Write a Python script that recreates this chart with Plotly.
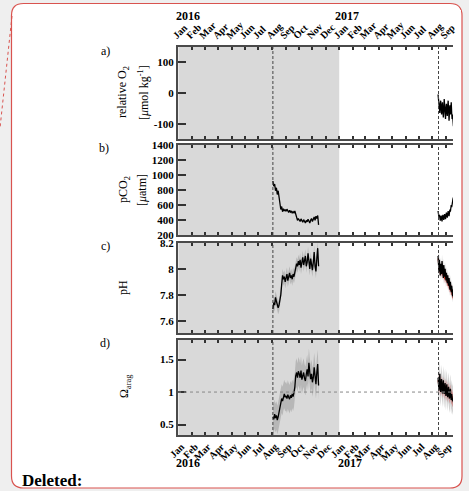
import plotly.graph_objects as go
import pandas as pd

W, H = 469, 491
SERIF = "Liberation Serif"

# ---------------- data ----------------
month_labels = ["Jan", "Feb", "Mar", "Apr", "May", "Jun", "Jul", "Aug", "Sep", "Oct", "Nov", "Dec",
                "Jan", "Feb", "Mar", "Apr", "May", "Jun", "Jul", "Aug", "Sep"]
month_ticks = list(pd.date_range("2016-01-01", "2017-09-01", freq="MS"))

deploy_dates = ["2016-08-03", "2017-08-15"]
shade_start, shade_end = "2016-01-01", "2017-01-01"

# 2016 deployment (every 2 days from Aug 3 to Nov 15)
pco2_2016 = [920, 850, 880, 790, 830, 740, 790, 690, 620, 540, 580, 510, 550, 520, 540,
             515, 545, 525, 500, 530, 505, 520, 490, 510, 495, 520, 480, 430, 395, 420,
             405, 380, 415, 390, 370, 405, 385, 360, 395, 375, 410, 385, 360, 400, 420,
             380, 410, 440, 395, 450, 420, 460, 335]
ph_2016 = [7.69, 7.74, 7.72, 7.78, 7.75, 7.73, 7.70, 7.72, 7.76, 7.80, 7.88, 7.95, 7.92, 7.94, 7.90,
           7.93, 7.96, 7.91, 7.94, 7.97, 7.93, 7.95, 7.92, 7.96, 7.94, 7.97, 7.99, 8.04, 8.02, 8.06,
           8.03, 8.07, 8.01, 8.05, 8.09, 8.03, 8.06, 8.10, 8.02, 8.05, 8.12, 8.04, 8.00, 8.08, 8.03,
           7.99, 8.05, 8.13, 8.02, 7.98, 8.08, 8.16, 8.02]
omega_2016 = [0.62, 0.58, 0.66, 0.60, 0.64, 0.57, 0.62, 0.68, 0.75, 0.82, 0.90, 0.86, 0.94, 0.97, 0.92,
              0.94, 0.90, 0.96, 0.92, 0.89, 0.95, 0.91, 0.97, 0.93, 0.99, 1.08, 1.25, 1.30, 1.22, 1.32,
              1.28, 1.22, 1.33, 1.19, 1.25, 1.30, 1.21, 1.17, 1.27, 1.35, 1.24, 1.45, 1.30, 1.20, 1.28,
              1.15, 1.22, 1.38, 1.25, 1.12, 1.30, 1.43, 1.10]

# 2017 deployment (daily from Aug 14)
o2_2017 = [-5, -30, -55, -40, -65, -35, -25, -50, -70, -45, -30, -60, -80, -55, -20, -40, -65, -85,
           -50, -35, -60, -75, -45, -25, -55, -90, -60, -40, -70, -50, -30, -65, -85, -70, -95, -108]
pco2_2017 = [520, 480, 440, 470, 410, 390, 430, 460, 420, 380, 440, 470, 430, 400, 450, 480, 440, 410,
             460, 500, 470, 430, 480, 520, 490, 450, 500, 540, 510, 560, 600, 570, 640, 610, 680, 700]
ph_2017 = [8.10, 8.05, 7.98, 8.07, 8.02, 7.95, 8.04, 8.00, 7.96, 8.06, 8.01, 7.97, 7.93, 8.03, 7.99, 7.94,
           8.00, 7.96, 7.91, 7.97, 7.93, 7.89, 7.95, 7.90, 7.87, 7.93, 7.88, 7.84, 7.90, 7.86, 7.82, 7.87,
           7.83, 7.79, 7.84, 7.78]
ph_2017_red = [8.08, 8.02, 8.00, 8.04, 7.99, 7.97, 8.01, 7.97, 7.99, 8.03, 7.98, 7.95, 7.96, 8.00, 7.96, 7.92,
               7.97, 7.93, 7.93, 7.94, 7.90, 7.91, 7.92, 7.87, 7.89, 7.90, 7.85, 7.86, 7.87, 7.83, 7.84, 7.84,
               7.80, 7.81, 7.81, 7.76]
omega_2017 = [1.22, 1.10, 1.02, 1.15, 1.28, 1.08, 1.00, 1.12, 1.20, 1.05, 0.98, 1.10, 1.18, 1.04, 0.97, 1.08,
              1.14, 1.00, 0.94, 1.06, 1.12, 0.98, 0.92, 1.03, 1.08, 0.95, 0.90, 1.00, 1.05, 0.93, 0.88, 0.97,
              0.92, 0.86, 0.90, 0.84]
omega_2017_red = [1.18, 1.12, 1.06, 1.10, 1.20, 1.10, 1.04, 1.08, 1.15, 1.08, 1.02, 1.06, 1.12, 1.06, 1.00, 1.04,
                  1.10, 1.03, 0.97, 1.02, 1.07, 1.00, 0.95, 1.00, 1.04, 0.97, 0.93, 0.97, 1.01, 0.95, 0.91, 0.94,
                  0.93, 0.88, 0.89, 0.85]

ph_unc = 0.05
omega_unc = 0.22

o2_ticks = [-100, 0, 100]
pco2_ticks = [200, 400, 600, 800, 1000, 1200, 1400]
ph_ticks = [7.6, 7.8, 8, 8.2]
ph_ticktext = ["7.6", "7.8", "8", "8.2"]
omega_ticks = [0.5, 1, 1.5]
omega_ticktext = ["0.5", "1", "1.5"]

d2016 = list(pd.date_range("2016-08-03", periods=len(pco2_2016), freq="2D"))
d2017 = list(pd.date_range("2017-08-14", periods=len(o2_2017), freq="D"))

# ---------------- helpers ----------------
def px(x):
    return x / W


def py(y):
    return 1 - y / H


fig = go.Figure()

LINE = dict(color="black", width=1.3)


def band(dates, vals, unc, color, xa, ya):
    upper = [v + unc for v in vals]
    lower = [v - unc for v in vals]
    fig.add_trace(go.Scatter(x=dates + dates[::-1], y=upper + lower[::-1], fill="toself",
                             fillcolor=color, line=dict(width=0), mode="lines",
                             hoverinfo="skip", showlegend=False, xaxis=xa, yaxis=ya))


def line(dates, vals, xa, ya, style=LINE):
    fig.add_trace(go.Scatter(x=dates, y=vals, mode="lines", line=style, showlegend=False,
                             xaxis=xa, yaxis=ya))


# panel a
line(d2017, o2_2017, "x", "y")
# panel b
line(d2016, pco2_2016, "x2", "y2")
line(d2017, pco2_2017, "x2", "y2")
# panel c
band(d2016, ph_2016, ph_unc, "rgba(150,150,150,0.5)", "x3", "y3")
band(d2017, ph_2017, ph_unc, "rgba(150,150,150,0.45)", "x3", "y3")
band(d2017, ph_2017_red, ph_unc * 0.7, "rgba(200,40,40,0.45)", "x3", "y3")
line(d2017, ph_2017_red, "x3", "y3", dict(color="#c0392b", width=1))
line(d2016, ph_2016, "x3", "y3")
line(d2017, ph_2017, "x3", "y3")
# panel d
band(d2016, omega_2016, omega_unc, "rgba(150,150,150,0.5)", "x4", "y4")
band(d2017, omega_2017, omega_unc, "rgba(150,150,150,0.45)", "x4", "y4")
band(d2017, omega_2017_red, omega_unc * 0.5, "rgba(200,40,40,0.35)", "x4", "y4")
line(d2017, omega_2017_red, "x4", "y4", dict(color="#c0392b", width=1))
line(d2016, omega_2016, "x4", "y4")
line(d2017, omega_2017, "x4", "y4")

# ---------------- axes ----------------
xdom = [px(178), px(453)]
ydoms = [(47, 139), (145, 235), (243, 333), (340, 435)]
yranges = [[-150, 150], [200, 1400], [7.505, 8.2], [0.34, 1.8]]
yticks = [(o2_ticks, [str(v) for v in o2_ticks]),
          (pco2_ticks, [str(v) for v in pco2_ticks]),
          (ph_ticks, ph_ticktext),
          (omega_ticks, omega_ticktext)]

AXC = "#4a4a4a"
for i in range(4):
    sx = "" if i == 0 else str(i + 1)
    xa = dict(domain=xdom, range=["2015-12-31", "2017-09-17"], anchor="y" + sx,
              showline=True, linecolor=AXC, linewidth=2, mirror="ticks",
              ticks="inside", ticklen=3, tickwidth=1.5, tickcolor="#333",
              tickmode="array", tickvals=month_ticks, ticktext=month_labels, tickangle=-45,
              tickfont=dict(family=SERIF, size=10, color="black", weight="bold"),
              showgrid=False, zeroline=False, showticklabels=(i in (0, 3)),
              ticklabelshift=-5 if i == 0 else 3,
              side="top" if i == 0 else "bottom", automargin=False)
    top, bot = ydoms[i]
    ya = dict(domain=[py(bot), py(top)], range=yranges[i], anchor="x" + sx,
              showline=True, linecolor=AXC, linewidth=2, mirror=False,
              ticks="inside", ticklen=8, tickwidth=2, tickcolor="#333",
              tickmode="array", tickvals=yticks[i][0], ticktext=yticks[i][1],
              tickfont=dict(family=SERIF, size=11, color="black", weight="bold"),
              showgrid=False, zeroline=False, automargin=False)
    fig.layout["xaxis" + sx] = xa
    fig.layout["yaxis" + sx] = ya

# ---------------- shapes ----------------
shapes = []


def path_from(points, close=True):
    s = ""
    for cmd, pts in points:
        s += cmd + " " + " ".join(f"{px(a):.5f},{py(b):.5f}" for a, b in pts) + " "
    return s + ("Z" if close else "")


x0, y0, x1, y1, r = 11.5, 3.5, 462, 488, 12
frame = [("M", [(x0 + r, y0)]), ("L", [(x1 - r, y0)]), ("Q", [(x1, y0), (x1, y0 + r)]),
         ("L", [(x1, y1 - r)]), ("Q", [(x1, y1), (x1 - r, y1)]), ("L", [(x0 + r, y1)]),
         ("Q", [(x0, y1), (x0, y1 - r)]), ("L", [(x0, y0 + r)]), ("Q", [(x0, y0), (x0 + r, y0)])]
shapes.append(dict(type="path", path=path_from(frame), xref="paper", yref="paper",
                   fillcolor="white", line=dict(color="#d9534f", width=1.2), layer="below"))
shapes.append(dict(type="line", xref="paper", yref="paper", x0=px(12), y0=py(16), x1=px(0), y1=py(128),
                   line=dict(color="#d9534f", width=1, dash="dot"), layer="below"))

for i in range(4):
    sx = "" if i == 0 else str(i + 1)
    shapes.append(dict(type="rect", xref="x" + sx, yref=f"y{sx} domain", x0=shade_start, x1=shade_end,
                       y0=0, y1=1, fillcolor="#d9d9d9", line=dict(width=0), layer="below"))
    for d in deploy_dates:
        shapes.append(dict(type="line", xref="x" + sx, yref=f"y{sx} domain", x0=d, x1=d, y0=0, y1=1,
                           line=dict(color="#444", width=1, dash="3px,2px")))
shapes.append(dict(type="line", xref="x4 domain", yref="y4", x0=0, x1=1, y0=1, y1=1,
                   line=dict(color="#888", width=1, dash="dot")))
# page clip at right edge
shapes.append(dict(type="rect", xref="paper", yref="paper", x0=px(456), x1=px(461), y0=py(480), y1=py(10),
                   fillcolor="white", line=dict(width=0), layer="above"))

# ---------------- annotations ----------------
ann = []


def text(x, y, s, size=12, bold=False, angle=0, xanchor="center"):
    ann.append(dict(x=px(x), y=py(y), xref="paper", yref="paper", text=s, showarrow=False,
                    textangle=angle, xanchor=xanchor, yanchor="middle",
                    font=dict(family=SERIF, size=size, color="black", weight="bold" if bold else "normal")))


text(188, 16, "2016", 12, True)
text(347, 16, "2017", 12, True)
text(188, 463, "2016", 12, True)
text(350, 463, "2017", 12, True)
text(105, 51, "a)")
text(104, 148, "b)")
text(105, 246, "c)")
text(105, 343, "d)")
text(123, 92, "relative O<sub>2</sub>", 12, angle=-90)
text(143, 93, "[<i>μ</i>mol kg<sup>-1</sup>]", 12, angle=-90)
text(124, 190, "pCO<sub>2</sub>", 12, angle=-90)
text(142, 190, "[<i>μ</i>atm]", 12, angle=-90)
text(123, 288, "pH", 12, angle=-90)
text(125, 386, "Ω<sub>arag</sub>", 12, angle=-90)
text(20, 480, "Deleted:", 17, True, xanchor="left")

fig.update_layout(width=W, height=H, margin=dict(l=0, r=0, t=0, b=0, pad=0, autoexpand=False),
                  autosize=False,
                  paper_bgcolor="#efefef", plot_bgcolor="rgba(0,0,0,0)",
                  shapes=shapes, annotations=ann, showlegend=False)

fig.write_html("out.html", config={"displayModeBar": False},
               post_script="document.body.style.margin='0px';document.body.style.padding='0px';"
                           "document.body.style.overflow='hidden';")
